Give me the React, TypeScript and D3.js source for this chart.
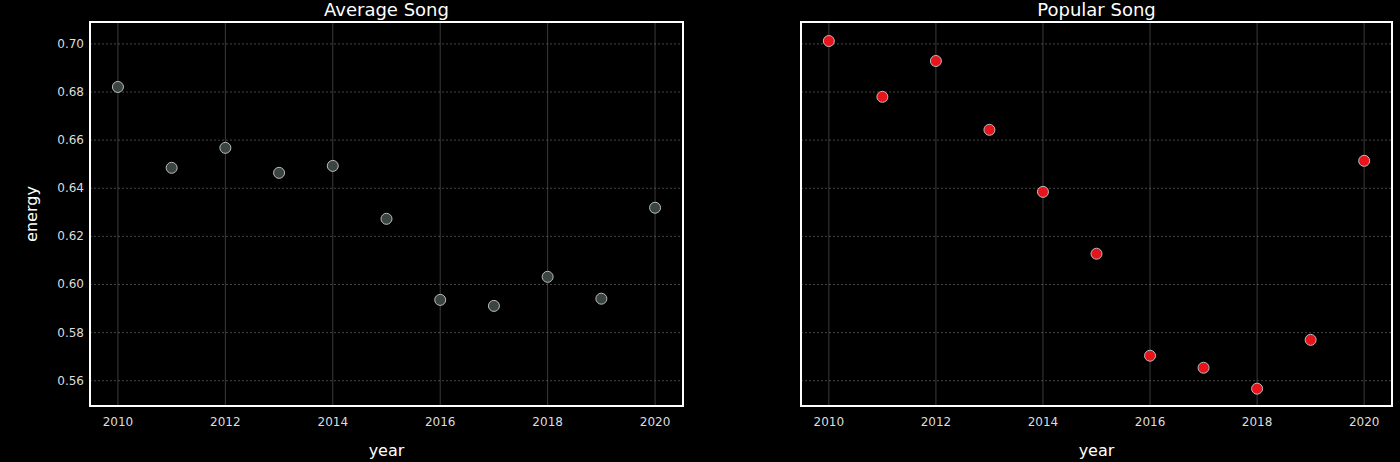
import React from "react";
import * as d3 from "d3";

const years = [2010, 2011, 2012, 2013, 2014, 2015, 2016, 2017, 2018, 2019, 2020];
const avgEnergy = [0.6821, 0.6485, 0.6568, 0.6464, 0.6493, 0.6273, 0.5936, 0.5911, 0.6032, 0.5941, 0.6319];
const popEnergy = [0.7012, 0.678, 0.6929, 0.6643, 0.6385, 0.6128, 0.5704, 0.5654, 0.5567, 0.577, 0.6514];
const yTicks = [0.56, 0.58, 0.6, 0.62, 0.64, 0.66, 0.68, 0.7];
const xTicks = [2010, 2012, 2014, 2016, 2018, 2020];

const W = 1400, H = 462, top = 22, bottom = 406;
const y = d3.scaleLinear().domain([0.5495, 0.7091]).range([bottom, top]);
const font = "DejaVu Sans, sans-serif";

function Panel({ x0, x1, title, data, fill, showY }: any) {
  const x = d3.scaleLinear().domain([2009.48, 2020.52]).range([x0, x1]);
  return (
    <g fontFamily={font}>
      {xTicks.map(t => (
        <line key={"vx" + t} x1={x(t)} x2={x(t)} y1={top} y2={bottom} stroke="#4a4a4a" strokeWidth={0.8} />
      ))}
      {yTicks.map(t => (
        <line key={"hy" + t} x1={x0} x2={x1} y1={y(t)} y2={y(t)} stroke="#666" strokeWidth={0.7} strokeDasharray="2,2" />
      ))}
      {data.map((v: number, i: number) => (
        <circle key={i} cx={x(years[i])} cy={y(v)} r={5.5} fill={fill} stroke="#bbb" strokeWidth={1} />
      ))}
      <rect x={x0} y={top} width={x1 - x0} height={bottom - top} fill="none" stroke="#fff" strokeWidth={2} />
      {xTicks.map(t => (
        <text key={"xt" + t} x={x(t)} y={bottom + 20} fill="#ddd" fontSize={12} textAnchor="middle">{t}</text>
      ))}
      {showY && yTicks.map(t => (
        <text key={"yt" + t} x={x0 - 6} y={y(t) + 4} fill="#ddd" fontSize={12} textAnchor="end">{t.toFixed(2)}</text>
      ))}
      <text x={(x0 + x1) / 2} y={16} fill="#fff" fontSize={18} textAnchor="middle">{title}</text>
      <text x={(x0 + x1) / 2} y={456} fill="#fff" fontSize={16} textAnchor="middle">year</text>
    </g>
  );
}

export default function App() {
  return (
    <svg width={W} height={H} style={{ position: "absolute", left: 0, top: 0, background: "#000" }}>
      <rect width={W} height={H} fill="#000" />
      <Panel x0={90} x1={683} title="Average Song" data={avgEnergy} fill="#3b4540" showY />
      <Panel x0={801} x1={1392} title="Popular Song" data={popEnergy} fill="#e8141c" showY={false} />
      <text transform={`translate(37,${(top + bottom) / 2}) rotate(-90)`} fill="#fff" fontSize={16} textAnchor="middle" fontFamily={font}>energy</text>
    </svg>
  );
}
